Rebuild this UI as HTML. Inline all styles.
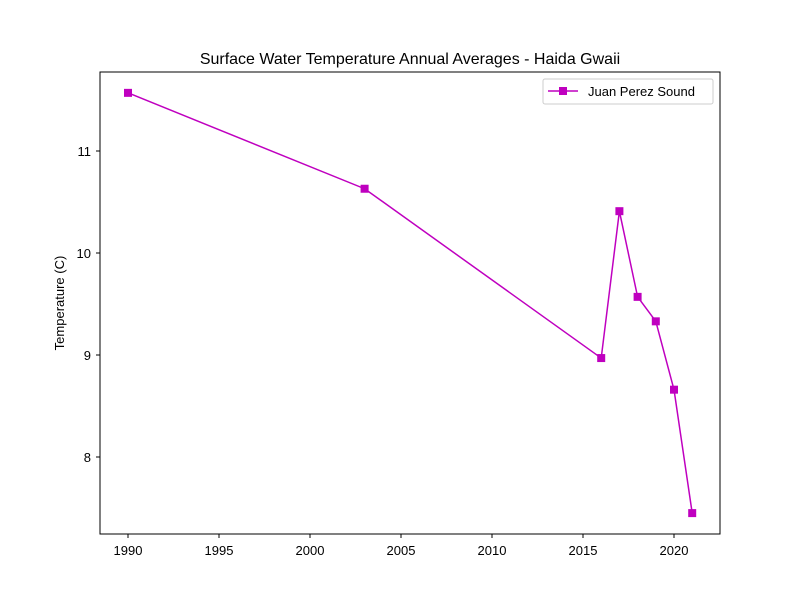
<!DOCTYPE html>
<html><head><meta charset="utf-8"><style>
body{margin:0;background:#fff;}
svg text{font-family:"Liberation Sans","DejaVu Sans",sans-serif;}
</style></head><body>
<svg id="chart" width="800" height="600" xmlns="http://www.w3.org/2000/svg">
<rect width="800" height="600" fill="#fff"/>
<text x="410" y="64" font-size="16" text-anchor="middle">Surface Water Temperature Annual Averages - Haida Gwaii</text>
<text transform="translate(64,303) rotate(-90)" font-size="13" text-anchor="middle">Temperature (C)</text>
<g id="xticks"></g>
<g id="yticks"></g>
<g id="series"></g>
<rect x="100" y="72" width="620" height="462" fill="none" stroke="#000" stroke-width="1"/>
<g>
<rect x="543" y="79" width="170" height="25" rx="2" fill="#fff" stroke="#ccc"/>
<line x1="548" y1="91" x2="578" y2="91" stroke="#bf00bf" stroke-width="1.5"/>
<rect x="559" y="87" width="8" height="8" fill="#bf00bf"/>
<text x="588" y="96" font-size="13">Juan Perez Sound</text>
</g>
</svg>
<script>
const years=[1990,2003,2016,2017,2018,2019,2020,2021];
const temps=[11.57,10.63,8.97,10.41,9.57,9.33,8.66,7.45];
const xTickLabels=[1990,1995,2000,2005,2010,2015,2020];
const yTickLabels=[8,9,10,11];
const NS="http://www.w3.org/2000/svg";
function xs(v){return 128+(v-1990)*18.2;}
function ys(v){return 151+(11-v)*102;}
function mk(t,a,p){const e=document.createElementNS(NS,t);for(const k in a)e.setAttribute(k,a[k]);p.appendChild(e);return e;}
const xg=document.getElementById('xticks'),yg=document.getElementById('yticks'),sg=document.getElementById('series');
xTickLabels.forEach(v=>{const x=xs(v);
const l=mk('line',{x1:x,y1:534,x2:x,y2:538,stroke:'#000'},xg);


const t=mk('text',{x:x,y:555,'font-size':13,'text-anchor':'middle'},xg);t.textContent=v;

});
yTickLabels.forEach(v=>{const y=ys(v);
const l=mk('line',{x1:96,y1:y,x2:100,y2:y,stroke:'#000'},yg);


const t=mk('text',{x:91,y:y+5,'font-size':13,'text-anchor':'end'},yg);t.textContent=v;

});
const pts=years.map((y,i)=>xs(y)+','+ys(temps[i])).join(' ');
const pl=mk('polyline',{points:pts,fill:'none',stroke:'#bf00bf','stroke-width':1.5},sg);


years.forEach((y,i)=>{const r=mk('rect',{x:xs(y)-4,y:ys(temps[i])-4,width:8,height:8,fill:'#bf00bf'},sg);

});
</script>
</body></html>
